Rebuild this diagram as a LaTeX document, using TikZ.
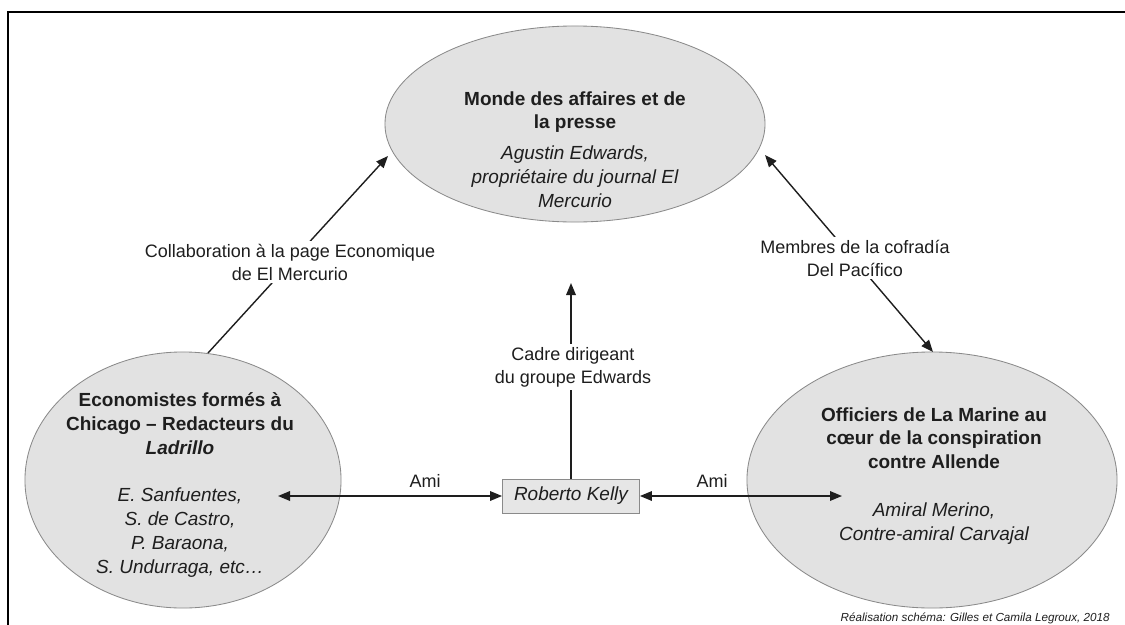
\documentclass[tikz,border=0pt]{standalone}
\usepackage{fontspec}
\setmainfont{Liberation Sans}
\usetikzlibrary{arrows.meta,shapes.geometric}
\definecolor{ellfill}{HTML}{E2E2E2}
\definecolor{ellline}{HTML}{8A8A8A}
\definecolor{boxfill}{HTML}{E6E6E6}
\definecolor{txt}{HTML}{1E1E1E}
\begin{document}
\begin{tikzpicture}[x=0.025cm,y=-0.025cm,
  ell/.style={ellipse,draw=ellline,fill=ellfill,line width=0.6pt,inner sep=0pt},
  intext/.style={align=center,text=txt,font=\fontsize{13.5pt}{17pt}\selectfont,inner sep=0pt},
  lbl/.style={align=center,text=txt,fill=white,font=\fontsize{12.8pt}{16.4pt}\selectfont,inner sep=2pt},
  conn/.style={line width=1pt,draw=txt},
  tip/.style={-{Triangle[length=0.3cm,width=0.24cm]}},
  tips/.style={{Triangle[length=0.3cm,width=0.24cm]}-{Triangle[length=0.3cm,width=0.24cm]}},
  boxstyle/.style={draw=ellline,fill=boxfill,line width=0.6pt,minimum width=3.425cm,minimum height=0.85cm,inner sep=0pt}]
\useasboundingbox (0,0) rectangle (1125,625);
% frame
\draw[line width=1pt] (8,625) -- (8,12) -- (1125,12);

% ellipses
\node[ell,minimum width=9.5cm,minimum height=4.9cm] (top) at (575,124) {};
\node[ell,minimum width=7.9cm,minimum height=6.4cm] (left) at (183,480) {};
\node[ell,minimum width=9.25cm,minimum height=6.4cm] (right) at (932,480) {};

% ellipse texts
\node[intext,anchor=north] (toptxt) at (575,91) {\textbf{Monde des affaires et de}\\\textbf{la presse}\\[5pt]\itshape Agustin Edwards,\\\itshape propriétaire du journal El\\\itshape Mercurio};
\node[intext,anchor=north] (lefttxt) at (180,392) {\textbf{Economistes formés à}\\\textbf{Chicago – Redacteurs du}\\\textbf{\itshape Ladrillo}\\[17pt]\itshape E. Sanfuentes,\\\itshape S. de Castro,\\\itshape P. Baraona,\\\itshape S. Undurraga, etc…};
\node[intext,anchor=north] (righttxt) at (934,407) {\textbf{Officiers de La Marine au}\\\textbf{cœur de la conspiration}\\\textbf{contre Allende}\\[17pt]\itshape Amiral Merino,\\\itshape Contre-amiral Carvajal};

% Roberto Kelly box
\node[boxstyle,intext] (kelly) at (571,496) {\itshape Roberto Kelly};

% free ends
\coordinate (lstart) at (208,353);
\coordinate (lend) at (388,156);
\coordinate (rtop) at (765,155);
\coordinate (rbot) at (933,352);
\coordinate (vend) at (571,283);
\coordinate (amiL) at (278,496);
\coordinate (amiR) at (842,496);

% connectors
\draw[conn,tip] (lstart) -- (lend);
\draw[conn,tips] (rtop) -- (rbot);
\draw[conn,tip] (kelly.north) -- (vend);
\draw[conn,tips] (kelly.west) -- (amiL);
\draw[conn,tips] (kelly.east) -- (amiR);

% labels
\node[lbl] (lblL) at (290,262) {Collaboration à la page Economique\\de El Mercurio};
\node[lbl] (lblR) at (855,258) {Membres de la cofradía\\Del Pacífico};
\node[lbl] (lblV) at (573,367) {Cadre dirigeant\\du groupe Edwards};
\node[lbl,fill=none] (ami1) at (425,481) {Ami};
\node[lbl,fill=none] (ami2) at (712,481) {Ami};

% credit
\node[anchor=base east,inner sep=0pt,text=txt,font=\fontsize{8.3pt}{10pt}\selectfont\itshape] (credit) at (1110,621) {Réalisation schéma: Gilles et Camila Legroux, 2018};
\end{tikzpicture}
\end{document}
